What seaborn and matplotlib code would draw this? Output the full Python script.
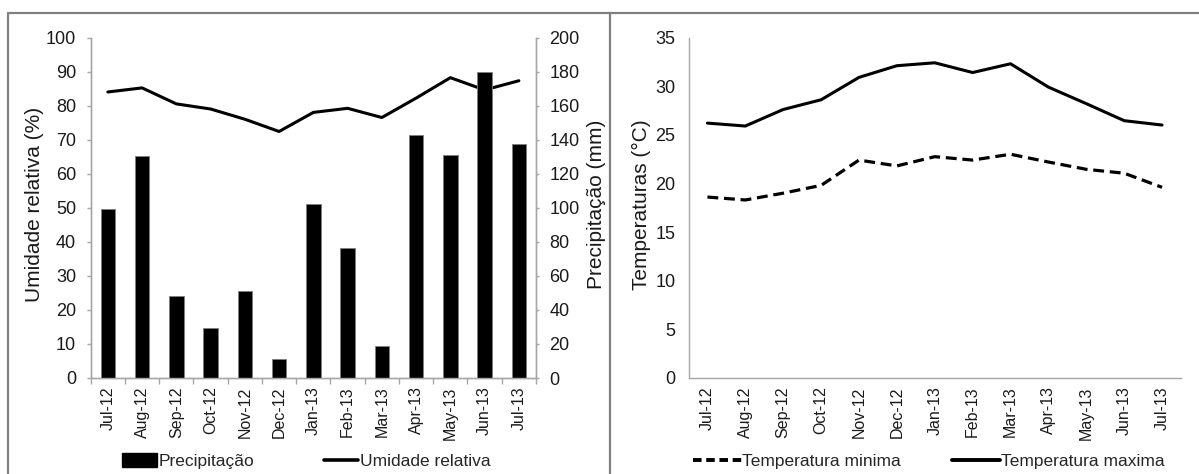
import numpy as np
import pandas as pd
import matplotlib
matplotlib.use("Agg")
import matplotlib.pyplot as plt
import seaborn as sns
from matplotlib.lines import Line2D
from matplotlib.patches import Patch

# data
months = ["Jul-12", "Aug-12", "Sep-12", "Oct-12", "Nov-12", "Dec-12", "Jan-13",
          "Feb-13", "Mar-13", "Apr-13", "May-13", "Jun-13", "Jul-13"]
precipitacao = [99, 130.5, 48.3, 29.4, 51, 11.1, 102, 76.3, 18.9, 142.8, 131.2, 180, 137.3]
umidade = [84.0, 85.2, 80.5, 79.0, 76.0, 72.4, 78.0, 79.2, 76.5, 82.2, 88.2, 84.6, 87.3]
temp_min = [18.6, 18.3, 19.0, 19.8, 22.4, 21.8, 22.75, 22.4, 23.0, 22.2, 21.45, 21.05, 19.6]
temp_max = [26.2, 25.9, 27.6, 28.6, 30.9, 32.1, 32.4, 31.4, 32.3, 29.9, 28.2, 26.45, 26.0]

df = pd.DataFrame({"mes": months, "prec": precipitacao, "umid": umidade,
                   "tmin": temp_min, "tmax": temp_max})

sns.set_style("white")
plt.rcParams["font.family"] = ["Liberation Sans", "DejaVu Sans"]

W, H = 1199, 474
fig = plt.figure(figsize=(W / 100, H / 100), dpi=100)
spine_col = "#a6a6a6"
txt_col = "#1a1a1a"

# ---- left panel: precipitation bars + relative humidity line
ax = fig.add_axes([90.7 / W, 1 - 378 / H, 445.3 / W, 340.5 / H])
sns.pointplot(data=df, x="mes", y="umid", color="black", markers="", errorbar=None,
              linewidth=2.2, ax=ax)
ax2 = ax.twinx()
sns.barplot(data=df, x="mes", y="prec", color="black", width=0.42, saturation=1,
            edgecolor="#7f7f7f", linewidth=0.6, ax=ax2)

ax.set_ylim(0, 100)
ax.set_yticks(np.arange(0, 101, 10))
ax2.set_ylim(0, 200)
ax2.set_yticks(np.arange(0, 201, 20))
ax.set_xlim(-0.5, len(months) - 0.5)
ax.set_xticks(np.arange(len(months)))
ax.set_xticklabels(months, rotation=90, fontsize=11.5, color=txt_col)
ax.set_xticks(np.arange(-0.5, len(months), 1), minor=True)
ax.tick_params(axis="x", which="major", length=0, pad=6)
ax.tick_params(axis="x", which="minor", length=4, width=1, color=spine_col, bottom=True)
ax.tick_params(axis="y", length=3, width=1, color=spine_col, pad=7.5,
               labelsize=13, labelcolor=txt_col, left=True)
ax2.tick_params(axis="y", length=2.2, width=1, color=spine_col, pad=7.5,
                labelsize=13, labelcolor=txt_col, right=True)
ax.set_xlabel("")
ax2.set_xlabel("")
ax.set_ylabel("Umidade relativa (%)", fontsize=15, color=txt_col)
ax2.set_ylabel("Precipitação (mm)", fontsize=15, color=txt_col)
ax.yaxis.set_label_coords((35 - 90.7) / 445.3, 0.51)
ax2.yaxis.set_label_coords((596 - 90.7) / 445.3, 0.51)
for a in (ax, ax2):
    a.yaxis.label.set_va("center")
    a.yaxis.label.set_ha("center")
    for s in ["left", "right", "bottom"]:
        a.spines[s].set_visible(True)
        a.spines[s].set_color(spine_col)
        a.spines[s].set_linewidth(1)
    a.spines["top"].set_visible(False)

leg1 = fig.legend(handles=[Patch(facecolor="black", edgecolor="black"),
                           Line2D([], [], color="black", lw=2.6)],
                  labels=["Precipitação", "Umidade relativa"],
                  loc="center left", bbox_to_anchor=(122 / W, 1 - 461 / H),
                  ncol=2, frameon=False, fontsize=12.5, handlelength=2.0,
                  handleheight=0.9, handletextpad=0.1, columnspacing=4.0,
                  borderpad=0, borderaxespad=0)

# ---- right panel: temperatures
axt = fig.add_axes([688.5 / W, 1 - 378 / H, 492.5 / W, 340.5 / H])
sns.pointplot(data=df, x="mes", y="tmin", color="black", markers="", errorbar=None,
              linewidth=2.3, ax=axt)
sns.pointplot(data=df, x="mes", y="tmax", color="black", markers="", errorbar=None,
              linewidth=2.2, ax=axt)
axt.lines[0].set_dashes((3.4, 1.8))
axt.set_ylim(0, 35)
axt.set_yticks(np.arange(0, 36, 5))
axt.set_xlim(-0.5, len(months) - 0.5)
axt.set_xticks(np.arange(len(months)))
axt.set_xticklabels(months, rotation=90, fontsize=11.5, color=txt_col)
axt.tick_params(axis="x", length=0, pad=6)
axt.tick_params(axis="y", length=0, pad=9.5, labelsize=13, labelcolor=txt_col)
axt.set_xlabel("")
axt.set_ylabel("Temperaturas (°C)", fontsize=15, color=txt_col)
axt.yaxis.set_label_coords((641 - 688.5) / 492.5, 0.51)
axt.yaxis.label.set_va("center")
axt.yaxis.label.set_ha("center")
for s in ["top", "right"]:
    axt.spines[s].set_visible(False)
for s in ["left", "bottom"]:
    axt.spines[s].set_color(spine_col)
    axt.spines[s].set_linewidth(1)

leg2 = fig.legend(handles=[Line2D([], [], color="black", lw=2.8, dashes=(2.2, 1.2)),
                           Line2D([], [], color="black", lw=2.8)],
                  labels=["Temperatura minima", "Temperatura maxima"],
                  loc="center left", bbox_to_anchor=(693 / W, 1 - 461 / H),
                  ncol=2, frameon=False, fontsize=12.5, handlelength=2.8,
                  handletextpad=0.05, columnspacing=2.9,
                  borderpad=0, borderaxespad=0)

# outer frame like the source figure
frame_kw = dict(transform=fig.transFigure, color="#808080", lw=1.6)
fig.add_artist(Line2D([8 / W, 1], [1 - 13 / H, 1 - 13 / H], **frame_kw))
fig.add_artist(Line2D([8 / W, 8 / W], [0, 1 - 13 / H], **frame_kw))
fig.add_artist(Line2D([610 / W, 610 / W], [0, 1 - 13 / H], **frame_kw))

fig.savefig("out.png", dpi=100)
